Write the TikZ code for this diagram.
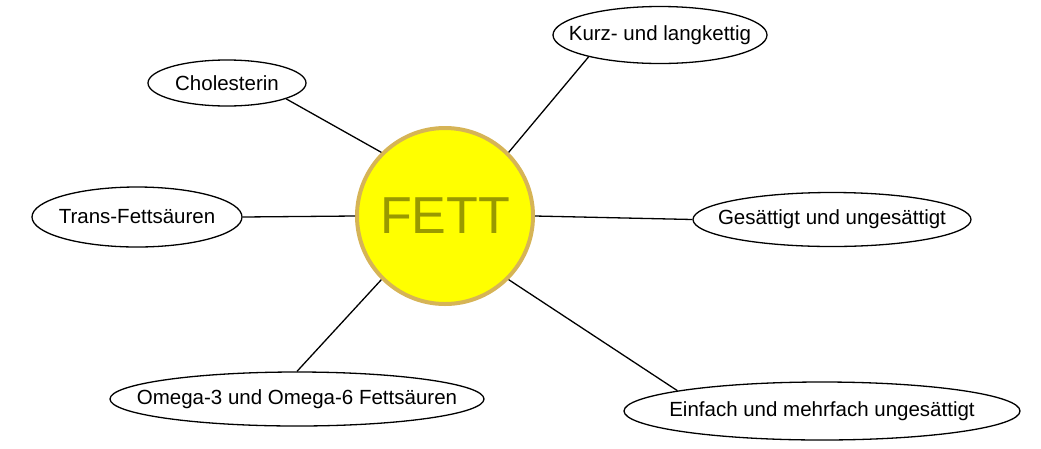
\documentclass[tikz,border=0pt]{standalone}
\usepackage{fontspec}
\setmainfont{Liberation Sans}
\usetikzlibrary{shapes.geometric}
\definecolor{fettgelb}{RGB}{255,255,0}
\definecolor{fettrand}{RGB}{214,180,86}
\definecolor{fetttext}{RGB}{153,153,0}
\newcommand{\wort}[1]{\makebox[0pt]{#1}}

\begin{document}
\begin{tikzpicture}[x=1pt,y=-1pt,
		thema/.style={circle, draw=fettrand, line width=4pt, fill=fettgelb, minimum size=176pt, inner sep=0pt, text=fetttext, font=\fontsize{52}{52}\selectfont},
		begriff/.style={ellipse, draw=black, line width=1.3pt, fill=white, inner sep=0pt, font=\fontsize{20.5}{20.5}\selectfont}]
		\useasboundingbox (0,0) rectangle (1041,448);
		\node[thema] (fett) at (445,216) {FETT};
		\node[begriff, minimum width=214pt, minimum height=57pt] (kurz) at (660,35) {\wort{Kurz- und langkettig}};
		\node[begriff, minimum width=158pt, minimum height=46pt] (chol) at (227,83) {\wort{Cholesterin}};
		\node[begriff, minimum width=210pt, minimum height=60pt] (trans) at (137,217) {\wort{Trans-Fettsäuren}};
		\node[begriff, minimum width=278pt, minimum height=54pt] (gesaett) at (832,219.5) {\wort{Gesättigt und ungesättigt}};
		\node[begriff, minimum width=374pt, minimum height=54pt] (omega) at (297,399) {\wort{Omega-3 und Omega-6 Fettsäuren}};
		\node[begriff, minimum width=396pt, minimum height=58pt] (einfach) at (822,411) {\wort{Einfach und mehrfach ungesättigt}};
		\draw[line width=1.3pt] (fett.45) -- (kurz.-163);
		\draw[line width=1.3pt] (fett.135) -- (chol.-15);
		\draw[line width=1.3pt] (fett.180) -- (trans.east);
		\draw[line width=1.3pt] (fett.0) -- (gesaett.west);
		\draw[line width=1.3pt] (fett.225) -- (omega.north);
		\draw[line width=1.3pt] (fett.315) -- (einfach.172);
	\end{tikzpicture}
\end{document}
